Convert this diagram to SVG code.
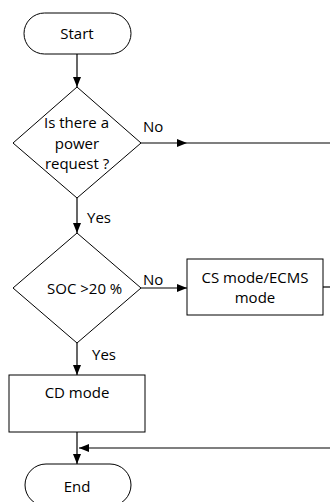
<svg xmlns="http://www.w3.org/2000/svg" width="330" height="502" viewBox="0 0 330 502">
  <defs>
    <style>
      .shape { fill: #ffffff; stroke: #000000; stroke-width: 1; }
      .wire { fill: none; stroke: #000000; stroke-width: 1.2; }
      .wire-grey { fill: none; stroke: #555555; stroke-width: 1.4; }
      .label { font-family: "Open Sans", "Liberation Sans", sans-serif; font-size: 15px; fill: #000000; }
      .mid { text-anchor: middle; }
    </style>
    <marker id="arrow" viewBox="0 0 10 8" refX="10" refY="4" markerWidth="10" markerHeight="8" markerUnits="userSpaceOnUse" orient="auto">
      <path d="M0,0 L10,4 L0,8 Z" fill="#000000"/>
    </marker>
  </defs>
  <rect width="330" height="502" fill="#ffffff"/>

  <!-- connectors -->
  <g id="connectors">
    <line class="wire" x1="77" y1="54" x2="77" y2="87" marker-end="url(#arrow)"/>
    <line class="wire" x1="141" y1="143" x2="187" y2="143" marker-end="url(#arrow)"/>
    <line class="wire-grey" x1="187" y1="143" x2="330" y2="143"/>
    <line class="wire" x1="77" y1="198" x2="77" y2="233" marker-end="url(#arrow)"/>
    <line class="wire" x1="141" y1="288" x2="187" y2="288" marker-end="url(#arrow)"/>
    <line class="wire" x1="323" y1="287" x2="330" y2="287"/>
    <line class="wire" x1="77" y1="343" x2="77" y2="375" marker-end="url(#arrow)"/>
    <line class="wire" x1="77" y1="432" x2="77" y2="464" marker-end="url(#arrow)"/>
    <line class="wire" x1="330" y1="448" x2="79" y2="448" marker-end="url(#arrow)"/>
    <text class="label" x="143" y="132">No</text>
    <text class="label" x="87" y="223">Yes</text>
    <text class="label" x="143" y="285">No</text>
    <text class="label" x="92" y="360">Yes</text>
  </g>

  <g id="start">
    <rect class="shape" x="24" y="13" width="107" height="41" rx="20.5" ry="20.5"/>
    <text class="label mid" x="77" y="39">Start</text>
  </g>

  <g id="power-request">
    <polygon class="shape" points="77,87 141,143 77,198 13,143"/>
    <text class="label mid" x="76.5" y="128">Is there a</text>
    <text class="label mid" x="77" y="148.5">power</text>
    <text class="label mid" x="77" y="169">request ?</text>
  </g>

  <g id="soc-check">
    <polygon class="shape" points="77,233 141,288 77,343 13,288"/>
    <text class="label" x="47" y="294">SOC &gt;20 %</text>
  </g>

  <g id="cs-mode">
    <rect class="shape" x="187" y="259" width="136" height="56"/>
    <text class="label mid" x="255" y="283">CS mode/ECMS</text>
    <text class="label mid" x="255" y="303">mode</text>
  </g>

  <g id="cd-mode">
    <rect class="shape" x="9" y="375" width="136" height="57"/>
    <text class="label mid" x="77" y="398">CD mode</text>
  </g>

  <g id="end">
    <rect class="shape" x="25" y="464" width="106" height="42" rx="21" ry="21"/>
    <text class="label mid" x="77" y="492">End</text>
  </g>
</svg>
